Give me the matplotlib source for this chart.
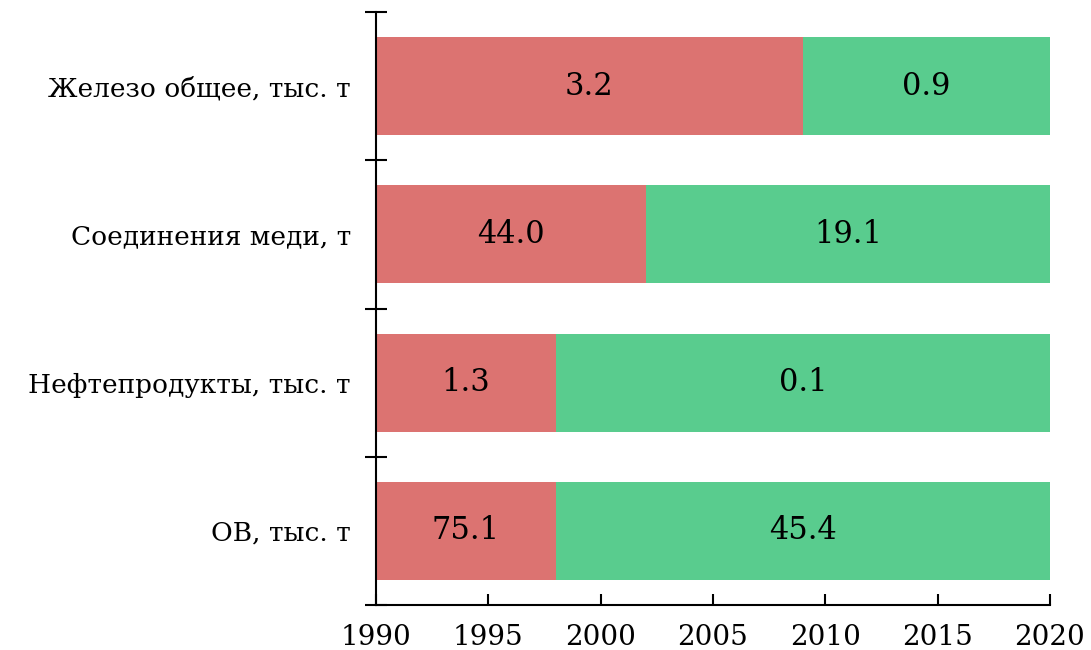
import numpy as np
import matplotlib.pyplot as plt

plt.rcParams['font.family'] = ['DejaVu Serif']

labels = ["ОВ, тыс. т", "Нефтепродукты, тыс. т", "Соединения меди, т", "Железо общее, тыс. т"]
start_year = 1990
split_year = [1998, 1998, 2002, 2009]   # граница между периодами
end_year = 2020
before = ["75.1", "1.3", "44.0", "3.2"]
after = ["45.4", "0.1", "19.1", "0.9"]

red = "#dc7371"
green = "#59cc8e"

fig = plt.figure(figsize=(10.91, 6.5), dpi=100)
ax = fig.add_axes([0.3446, 0.0692, 0.6178, 0.9123])

y = np.arange(len(labels))
w1 = [s - start_year for s in split_year]
w2 = [end_year - s for s in split_year]
b1 = ax.barh(y, w1, left=start_year, height=0.66, color=red)
b2 = ax.barh(y, w2, left=split_year, height=0.66, color=green)

for i in range(len(labels)):
    ax.text(start_year + w1[i] / 2, y[i], before[i], ha='center', va='center', fontsize=22)
    ax.text(split_year[i] + w2[i] / 2, y[i], after[i], ha='center', va='center', fontsize=22)

ax.set_xlim(1990, 2020)
ax.set_ylim(-0.5, len(labels) - 0.5)
ax.set_xticks(np.arange(1990, 2021, 5))
ax.set_yticks(np.arange(-0.5, len(labels), 1.0))
ax.set_yticklabels([])
ax.set_yticks(y, labels, minor=True)
ax.tick_params(axis='y', which='major', direction='inout', length=16, width=1.5)
ax.tick_params(axis='y', which='minor', length=0, labelsize=19, pad=18)
ax.tick_params(axis='x', direction='in', length=8, width=1.5, labelsize=20, pad=14)

for s in ['top', 'right']:
    ax.spines[s].set_visible(False)
for s in ['left', 'bottom']:
    ax.spines[s].set_linewidth(1.5)

fig.savefig("out.png", dpi=100)
